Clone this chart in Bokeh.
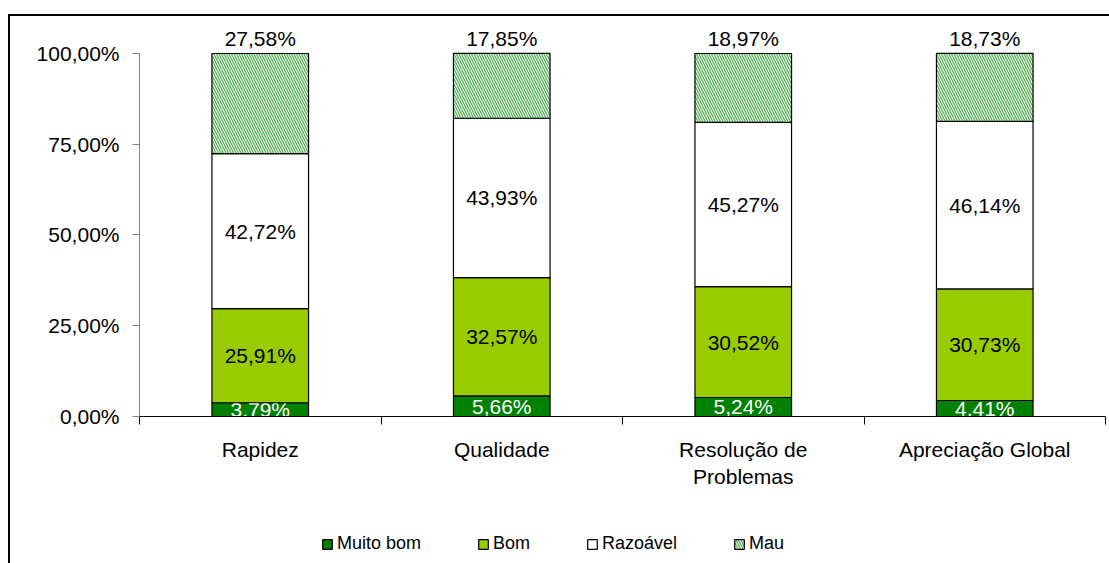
from bokeh.plotting import figure
from bokeh.layouts import column
from bokeh.models import (Range1d, FixedTicker, Legend, LegendItem, ColumnDataSource)
from bokeh.core.properties import value
from bokeh.embed import file_html
from bokeh.resources import INLINE

# ---- data ----
categories = ["Rapidez", "Qualidade", "Resolução de Problemas", "Apreciação Global"]
category_labels = ["Rapidez", "Qualidade", "Resolução de\nProblemas", "Apreciação Global"]
series = ["Muito bom", "Bom", "Razoável", "Mau"]
muito_bom = [3.79, 5.66, 5.24, 4.41]
bom = [25.91, 32.57, 30.52, 30.73]
razoavel = [42.72, 43.93, 45.27, 46.14]
mau = [27.58, 17.85, 18.97, 18.73]
y_ticks = [0, 25, 50, 75, 100]
y_tick_labels = ["0,00%", "25,00%", "50,00%", "75,00%", "100,00%"]

series_values = [muito_bom, bom, razoavel, mau]
fills = ["#008000", "#99CC00", "#FFFFFF", "#FFFFFF"]
label_colors = ["white", "black", "black", "black"]
HATCH = dict(hatch_pattern="\\", hatch_color="#55B055", hatch_scale=5, hatch_weight=1.3)
FONT = "Liberation Sans"

n = len(categories)
centres = [i + 0.5 for i in range(n)]

p = figure(x_range=Range1d(0, n), y_range=Range1d(0, 109.09),
           width=1109, height=523, output_backend="svg", toolbar_location=None,
           min_border_left=139, min_border_right=4,
           min_border_top=20, min_border_bottom=107)
p.outline_line_color = None
p.grid.visible = False
p.border_fill_alpha = 0

# y axis
ya = p.yaxis[0]
ya.ticker = FixedTicker(ticks=y_ticks)
ya.major_label_overrides = dict(zip(y_ticks, y_tick_labels))
ya.bounds = (0, 100)
ya.major_tick_in = 0
ya.major_tick_out = 7
ya.minor_tick_in = 0
ya.minor_tick_out = 0
ya.axis_line_color = "#808080"
ya.major_tick_line_color = "#808080"
ya.major_label_text_font = FONT
ya.major_label_text_font_size = "21px"
ya.major_label_text_color = "black"
ya.major_label_standoff = 13

# x axis (ticks between categories, labels at centres)
xa = p.xaxis[0]
xa.ticker = FixedTicker(ticks=centres, minor_ticks=list(range(n + 1)))
xa.major_label_overrides = dict(zip(centres, category_labels))
xa.major_tick_in = 0
xa.major_tick_out = 0
xa.minor_tick_in = 0
xa.minor_tick_out = 8
xa.axis_line_color = "black"
xa.minor_tick_line_color = "black"
xa.major_label_text_font = FONT
xa.major_label_text_font_size = "21px"
xa.major_label_text_color = "black"
xa.major_label_standoff = 13

# stacked bars
bottoms = [0.0] * n
for k, name in enumerate(series):
    vals = series_values[k]
    tops = [b + v for b, v in zip(bottoms, vals)]
    labels = [("%.2f" % v).replace(".", ",") + "%" for v in vals]
    if name == "Mau":
        ypos = [t + 4.1 for t in tops]
    else:
        ypos = [(b + t) / 2 for b, t in zip(bottoms, tops)]
    src = ColumnDataSource(dict(x=centres, cat=categories, bottom=bottoms, top=tops,
                                label=labels, ypos=ypos))
    kw = HATCH if name == "Mau" else {}
    p.vbar(x="x", bottom="bottom", top="top", width=0.4, source=src,
           fill_color=fills[k], line_color="black", line_width=1.2, **kw)
    p.text(x="x", y="ypos", text="label", source=src, text_align="center",
           text_baseline="middle", text_font=value(FONT), text_font_size="21px",
           text_color=label_colors[k])
    bottoms = tops

# legend strip (separate figure so the legend is not clipped by the main frame)
lf = figure(x_range=Range1d(0, n), y_range=Range1d(0, 1), width=1109, height=40,
            output_backend="svg", toolbar_location=None,
            x_axis_location=None, y_axis_location=None,
            min_border_left=139, min_border_right=4, min_border_top=0, min_border_bottom=0)
lf.outline_line_color = None
lf.grid.visible = False
lf.border_fill_alpha = 0
lf.background_fill_alpha = 0
items = []
for k, name in enumerate(series):
    kw = HATCH if name == "Mau" else {}
    lsrc = ColumnDataSource(dict(x=centres[:1], top=series_values[k][:1]))
    r = lf.vbar(x="x", top="top", width=0.4, source=lsrc, fill_color=fills[k],
                line_color="black", line_width=1.2, visible=False, **kw)
    items.append(LegendItem(label=name, renderers=[r]))
legend = Legend(items=items, orientation="horizontal", location=(182, 9),
                glyph_width=12, glyph_height=12, label_standoff=4, spacing=56,
                padding=0, margin=0, border_line_color=None,
                background_fill_alpha=0, inactive_fill_alpha=0,
                label_text_font=FONT,
                label_text_font_size="18px", label_text_color="black")
lf.add_layout(legend)

layout = column(p, lf, spacing=0)
layout.styles = {
    "background-image": "linear-gradient(#000, #000), linear-gradient(#000, #000)",
    "background-size": "2px 100%, 100% 2px",
    "background-position": "8px 14px, 8px 14px",
    "background-repeat": "no-repeat",
}

open("out.html", "w").write(file_html(layout, INLINE))
